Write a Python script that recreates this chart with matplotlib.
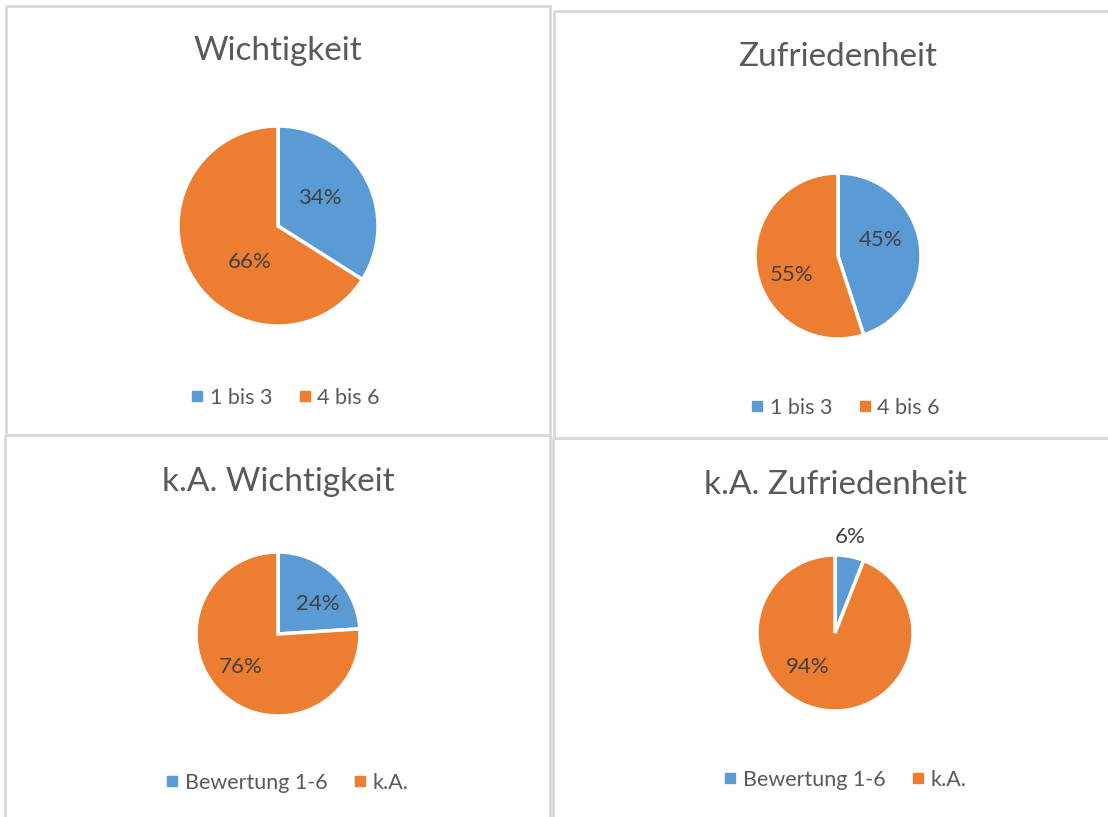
import matplotlib.pyplot as plt
from matplotlib.lines import Line2D
from matplotlib.patches import Rectangle

plt.rcParams['font.family'] = ['Lato', 'DejaVu Sans']

# chart data
titles = ["Wichtigkeit", "Zufriedenheit", "k.A. Wichtigkeit", "k.A. Zufriedenheit"]
labels_top = ["1 bis 3", "4 bis 6"]
labels_bottom = ["Bewertung 1-6", "k.A."]
wichtigkeit = [34, 66]
zufriedenheit = [45, 55]
ka_wichtigkeit = [24, 76]
ka_zufriedenheit = [6, 94]

colors = ["#5B9BD5", "#ED7D31"]
W, H = 1108, 817

fig = plt.figure(figsize=(W / 100, H / 100), dpi=100)
bg = fig.add_axes([0, 0, 1, 1])
bg.set_xlim(0, W)
bg.set_ylim(H, 0)
bg.axis('off')

# panel frames (x0, y0, x1, y1) in pixels
frames = [(6, 6, 550, 435), (554, 11, 1115, 438), (5, 435, 550, 825), (553, 438, 1115, 825)]
for x0, y0, x1, y1 in frames:
    bg.add_patch(Rectangle((x0, y0), x1 - x0, y1 - y0, fill=False,
                           edgecolor="#d9d9d9", linewidth=2))

panels = [
    dict(title=titles[0], values=wichtigkeit, labels=labels_top, c=(278, 226), r=100,
         title_y=60, legend=(283, 398), pct_pos=[(0.42, 0.28), (-0.28, -0.36)]),
    dict(title=titles[1], values=zufriedenheit, labels=labels_top, c=(838, 256), r=83,
         title_y=66, legend=(843, 408), pct_pos=[(0.51, 0.19), (-0.56, -0.23)]),
    dict(title=titles[2], values=ka_wichtigkeit, labels=labels_bottom, c=(278, 634), r=82,
         title_y=491, legend=(285, 783), pct_pos=[(0.49, 0.37), (-0.46, -0.40)]),
    dict(title=titles[3], values=ka_zufriedenheit, labels=labels_bottom, c=(835, 633), r=78,
         title_y=494, legend=(843, 780), pct_pos=[(0.19, 1.23), (-0.35, -0.44)]),
]

for p in panels:
    cx, cy = p["c"]
    r = p["r"]
    ax = fig.add_axes([(cx - r) / W, (H - cy - r) / H, 2 * r / W, 2 * r / H])
    wedges, _, autotexts = ax.pie(p["values"], colors=colors, startangle=90, counterclock=False,
                                  autopct='%1.0f%%', pctdistance=0.5,
                                  wedgeprops=dict(edgecolor="white", linewidth=2.5),
                                  textprops=dict(color="#404040", fontsize=16))
    for t, pos in zip(autotexts, p["pct_pos"]):
        t.set_position(pos)
        t.set_clip_on(False)
    ax.set_xlim(-1, 1)
    ax.set_ylim(-1, 1)
    ax.set_aspect('equal')

    bg.text(cx, p["title_y"], p["title"], ha='center', va='baseline',
            fontsize=24, color="#595959")

    handles = [Line2D([], [], marker='s', linestyle='none', markersize=7, color=col)
               for col in colors]
    lx, ly = p["legend"]
    fig.legend(handles, p["labels"], loc='center', bbox_to_anchor=(lx / W, 1 - ly / H),
               ncol=2, frameon=False, fontsize=15.5, labelcolor="#595959",
               handletextpad=0.1, columnspacing=1.0, handlelength=1.0)

fig.savefig("out.png", dpi=100)
